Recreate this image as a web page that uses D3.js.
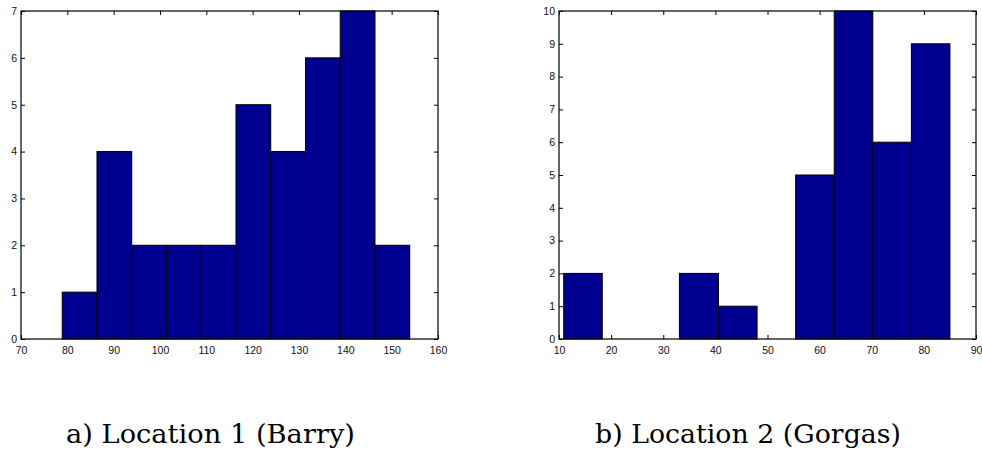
<!DOCTYPE html>
<html>
<head>
<meta charset="utf-8">
<script src="https://cdn.jsdelivr.net/npm/d3@7"></script>
<style>
  html, body { margin: 0; padding: 0; background: #fff; }
  svg { display: block; }
  .tick text { font-family: "Liberation Sans", Arial, sans-serif; font-size: 10.5px; fill: #111; }
  .caption { font-family: "DejaVu Serif", serif; font-size: 26px; fill: #000; }
</style>
</head>
<body>
<svg id="chart" width="982" height="452"></svg>
<script>
// ---------- Data ----------
// Panel a) Location 1 (Barry): histogram bin edges and counts
const barryEdges  = [78.9, 86.4, 93.9, 101.4, 108.9, 116.4, 123.9, 131.4, 138.9, 146.4, 153.9];
const barryCounts = [1, 4, 2, 2, 2, 5, 4, 6, 7, 2];
const barryXTicks = [70, 80, 90, 100, 110, 120, 130, 140, 150, 160];
const barryYTicks = [0, 1, 2, 3, 4, 5, 6, 7];

// Panel b) Location 2 (Gorgas)
const gorgasEdges  = [10.9, 18.3, 25.7, 33.1, 40.6, 48.0, 55.4, 62.8, 70.2, 77.6, 85.0];
const gorgasCounts = [2, 0, 0, 2, 1, 0, 5, 10, 6, 9];
const gorgasXTicks = [10, 20, 30, 40, 50, 60, 70, 80, 90];
const gorgasYTicks = [0, 1, 2, 3, 4, 5, 6, 7, 8, 9, 10];

const captions = ["a) Location 1 (Barry)", "b) Location 2 (Gorgas)"];

// ---------- Drawing ----------
const svg = d3.select("#chart");
const BAR_FILL = "#000090";

function panel(cfg) {
  const x = d3.scaleLinear().domain(cfg.xDomain).range([cfg.left, cfg.right]);
  const y = d3.scaleLinear().domain(cfg.yDomain).range([cfg.bottom, cfg.top]);
  const g = svg.append("g");

  const bins = cfg.counts.map((c, i) => ({x0: cfg.edges[i], x1: cfg.edges[i + 1], n: c}))
                         .filter(d => d.n > 0);

  g.selectAll("rect.bar").data(bins).enter().append("rect")
    .attr("class", "bar")
    .attr("x", d => x(d.x0))
    .attr("width", d => x(d.x1) - x(d.x0))
    .attr("y", d => y(d.n))
    .attr("height", d => y(0) - y(d.n))
    .attr("fill", BAR_FILL)
    .attr("stroke", "#000")
    .attr("stroke-width", 1);

  const T = 4;
  const bx = g.append("g").attr("transform", `translate(0,${cfg.bottom})`)
    .call(d3.axisBottom(x).tickValues(cfg.xTicks).tickFormat(d3.format("d"))
      .tickSizeInner(-T).tickSizeOuter(0).tickPadding(7.5));
  const tx = g.append("g").attr("transform", `translate(0,${cfg.top})`)
    .call(d3.axisTop(x).tickValues(cfg.xTicks).tickFormat("")
      .tickSizeInner(-T).tickSizeOuter(0));
  const ly = g.append("g").attr("transform", `translate(${cfg.left},0)`)
    .call(d3.axisLeft(y).tickValues(cfg.yTicks).tickFormat(d3.format("d"))
      .tickSizeInner(-T).tickSizeOuter(0).tickPadding(4));
  const ry = g.append("g").attr("transform", `translate(${cfg.right},0)`)
    .call(d3.axisRight(y).tickValues(cfg.yTicks).tickFormat("")
      .tickSizeInner(-T).tickSizeOuter(0));

  [bx, tx, ly, ry].forEach(a => {
    a.select(".domain").remove();
    a.selectAll(".tick line").attr("stroke", "#000");
  });

  g.append("rect")
    .attr("x", cfg.left).attr("y", cfg.top)
    .attr("width", cfg.right - cfg.left).attr("height", cfg.bottom - cfg.top)
    .attr("fill", "none").attr("stroke", "#000").attr("stroke-width", 1.2);

  g.append("text")
    .attr("class", "caption")
    .attr("x", cfg.capX).attr("y", cfg.capY)
    .attr("text-anchor", "start")
    .attr("textLength", cfg.capW)
    .attr("lengthAdjust", "spacingAndGlyphs")
    .text(cfg.caption);
}

panel({
  edges: barryEdges, counts: barryCounts, xTicks: barryXTicks, yTicks: barryYTicks,
  xDomain: [70, 160], yDomain: [0, 7],
  left: 21, right: 438, top: 11, bottom: 339,
  caption: captions[0], capX: 66, capY: 443, capW: 289
});

panel({
  edges: gorgasEdges, counts: gorgasCounts, xTicks: gorgasXTicks, yTicks: gorgasYTicks,
  xDomain: [10, 90], yDomain: [0, 10],
  left: 559, right: 976, top: 11, bottom: 339,
  caption: captions[1], capX: 595, capY: 443, capW: 306
});
</script>
</body>
</html>
